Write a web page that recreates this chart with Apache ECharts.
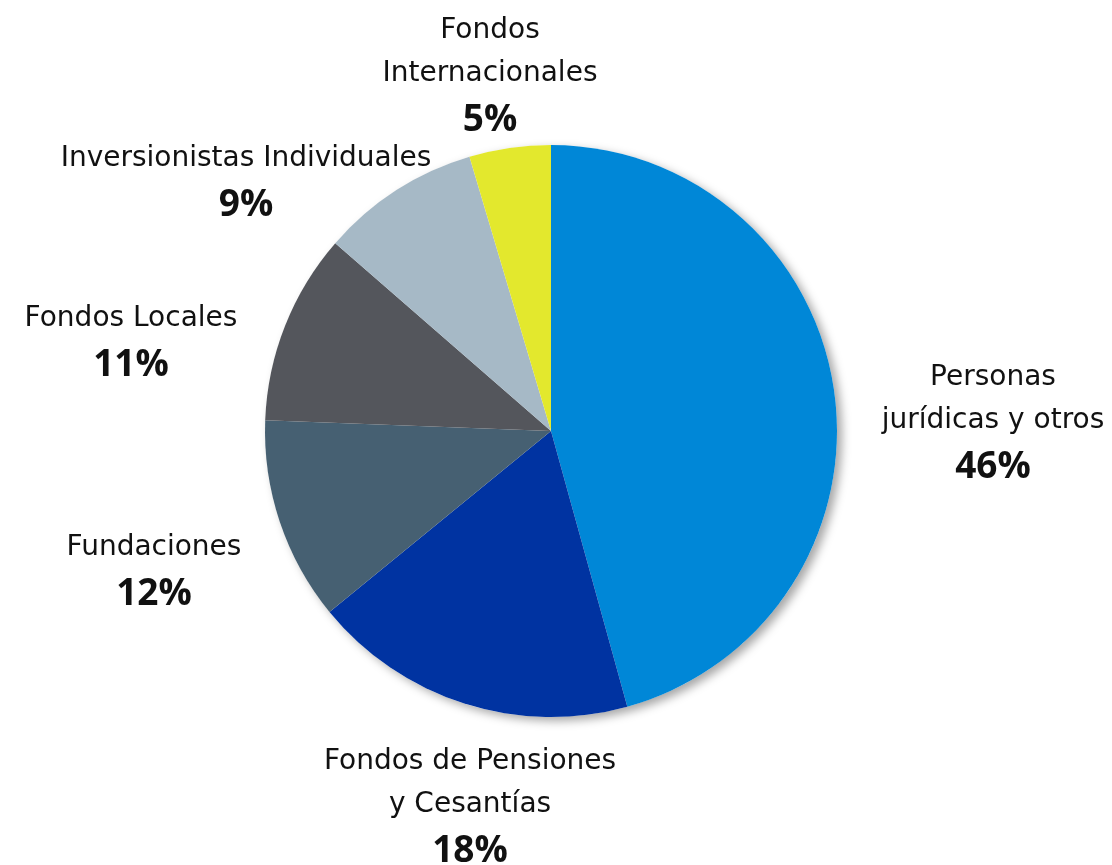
<!DOCTYPE html>
<html>
<head>
<meta charset="utf-8">
<script src="https://cdn.jsdelivr.net/npm/echarts@6/dist/echarts.min.js"></script>
<style>html,body{margin:0;padding:0;background:#fff}#c{width:1112px;height:865px}</style>
</head>
<body>
<div id="c"></div>
<script>
const categories = ["Personas\njurídicas y otros", "Fondos de Pensiones\ny Cesantías", "Fundaciones", "Fondos Locales", "Inversionistas Individuales", "Fondos\nInternacionales"];
const values = [45.7, 18.4, 11.5, 10.8, 9.0, 4.6];
const percentLabels = ["46%", "18%", "12%", "11%", "9%", "5%"];
const colors = ["#0087D7", "#0033A1", "#466072", "#54565C", "#A6B9C6", "#E3E82D"];
const labelCenters = [[993, 424], [470, 808], [154, 573], [131, 344], [246, 184], [490, 77]];

const chart = echarts.init(document.getElementById('c'));
chart.setOption({
  animation: false,
  backgroundColor: '#fff',
  series: [
    {
      type: 'pie', silent: true, z: 1,
      center: [551, 431], radius: 286,
      label: { show: false }, labelLine: { show: false },
      data: [{ value: 1, itemStyle: { color: '#fff', shadowBlur: 10, shadowOffsetX: 5, shadowOffsetY: 4, shadowColor: 'rgba(0,0,0,0.35)' } }]
    },
    {
      type: 'pie', z: 2,
      center: [551, 431], radius: 286,
      startAngle: 90, clockwise: true,
      itemStyle: { borderWidth: 0 },
      labelLine: { show: false },
      label: {
        show: true, position: 'outside', overflow: 'none', width: 600,
        formatter: p => '{n|' + categories[p.dataIndex].split('\n').join('}\n{n|') + '}\n{p|' + percentLabels[p.dataIndex] + '}',
        align: 'center',
        rich: {
          n: { fontFamily: 'DejaVu Sans', fontSize: 28, color: '#111', lineHeight: 43, align: 'center' },
          p: { fontFamily: 'Open Sans', fontSize: 37, fontWeight: 'bold', color: '#111', lineHeight: 50, align: 'center' }
        }
      },
      labelLayout: p => ({ x: labelCenters[p.dataIndex][0], y: labelCenters[p.dataIndex][1], align: 'center', verticalAlign: 'middle', hideOverlap: false, moveOverlap: false }),
      data: categories.map((c, i) => ({ name: c, value: values[i], itemStyle: { color: colors[i] } }))
    }
  ]
});
</script>
</body>
</html>
